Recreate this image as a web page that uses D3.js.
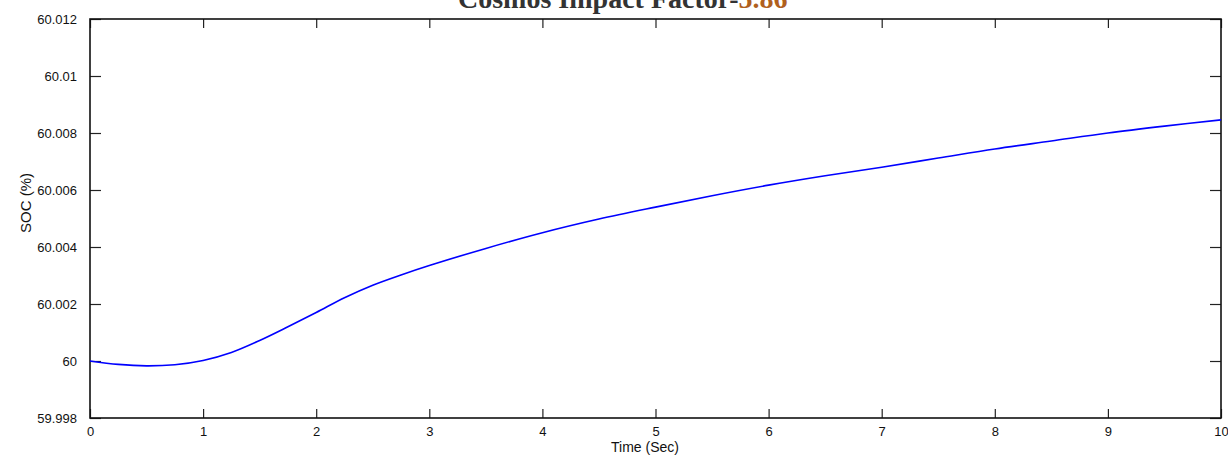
<!DOCTYPE html>
<html>
<head>
<meta charset="utf-8">
<script src="https://cdn.jsdelivr.net/npm/d3@7"></script>
<style>
  body { margin: 0; background: #fff; }
  svg { display: block; }
</style>
</head>
<body>
<svg id="chart" width="1228" height="460"></svg>
<script>
// data (time in sec, SOC in %)
var timeVals = [0, 0.25, 0.5, 0.75, 1, 1.25, 1.5, 1.75, 2, 2.25, 2.5, 2.75, 3, 3.5, 4, 4.5, 5, 5.5, 6, 6.5, 7, 7.5, 8, 8.5, 9, 9.5, 10];
var socVals = [60.00000, 59.99988, 59.99983, 59.99987, 60.00002, 60.00030, 60.00072, 60.00120, 60.00170, 60.00222, 60.00266, 60.00302, 60.00335,
               60.00395, 60.00450, 60.00498, 60.00540, 60.00580, 60.00617, 60.00650, 60.00680, 60.00712, 60.00744, 60.00772, 60.00800, 60.00824, 60.00846];
var xTicks = [0, 1, 2, 3, 4, 5, 6, 7, 8, 9, 10];
var yTicks = [59.998, 60, 60.002, 60.004, 60.006, 60.008, 60.01, 60.012];

var svg = d3.select("#chart");
var plotLeft = 90, plotRight = 1221, plotTop = 19, plotBottom = 418;

var x = d3.scaleLinear().domain([0, 10]).range([plotLeft, plotRight]);
var y = d3.scaleLinear().domain([59.998, 60.012]).range([plotBottom, plotTop]);

// title, cut off at the top edge like the reference
var title = svg.append("text")
    .attr("x", 458).attr("y", 8)
    .attr("font-family", "'Liberation Serif', 'Times New Roman', serif")
    .attr("font-weight", "bold")
    .attr("font-size", 28)
    .attr("fill", "#333");
title.append("tspan").text("Cosmos Impact Factor-");
title.append("tspan").attr("fill", "#b0601e").text("5.86");

var tickFont = "'Liberation Sans', Arial, sans-serif";

// axes with inward ticks, mirrored on top and right
var xBottom = svg.append("g").attr("transform", "translate(0," + plotBottom + ")")
    .call(d3.axisBottom(x).tickValues(xTicks).tickSizeInner(-9).tickSizeOuter(0).tickPadding(9).tickFormat(d3.format("d")));
var xTop = svg.append("g").attr("transform", "translate(0," + plotTop + ")")
    .call(d3.axisTop(x).tickValues(xTicks).tickSizeInner(-9).tickSizeOuter(0).tickFormat(""));
var yLeft = svg.append("g").attr("transform", "translate(" + plotLeft + ",0)")
    .call(d3.axisLeft(y).tickValues(yTicks).tickSizeInner(-11).tickSizeOuter(0).tickPadding(13).tickFormat(function (d) { return String(d); }));
var yRight = svg.append("g").attr("transform", "translate(" + plotRight + ",0)")
    .call(d3.axisRight(y).tickValues(yTicks).tickSizeInner(-11).tickSizeOuter(0).tickFormat(""));

[xBottom, xTop, yLeft, yRight].forEach(function (g) {
    g.select(".domain").remove();
    g.selectAll(".tick line").attr("stroke", "#222").attr("stroke-width", 1.2);
    g.selectAll("text").attr("font-family", tickFont).attr("font-size", 13).attr("fill", "#111");
});

// frame
svg.append("rect")
    .attr("x", plotLeft).attr("y", plotTop)
    .attr("width", plotRight - plotLeft).attr("height", plotBottom - plotTop)
    .attr("fill", "none").attr("stroke", "#111").attr("stroke-width", 1.6);

// SOC curve
var pts = timeVals.map(function (t, i) { return [t, socVals[i]]; });
var line = d3.line()
    .x(function (d) { return x(d[0]); })
    .y(function (d) { return y(d[1]); })
    .curve(d3.curveCatmullRom.alpha(0.5));

svg.append("path")
    .datum(pts)
    .attr("d", line)
    .attr("fill", "none")
    .attr("stroke", "#0000ff")
    .attr("stroke-width", 1.6);

// axis labels
svg.append("text")
    .attr("x", 645).attr("y", 452)
    .attr("text-anchor", "middle")
    .attr("font-family", tickFont).attr("font-size", 14).attr("fill", "#111")
    .text("Time (Sec)");

svg.append("text")
    .attr("transform", "translate(31,203) rotate(-90)")
    .attr("text-anchor", "middle")
    .attr("font-family", tickFont).attr("font-size", 15).attr("fill", "#111")
    .text("SOC (%)");
</script>
</body>
</html>
